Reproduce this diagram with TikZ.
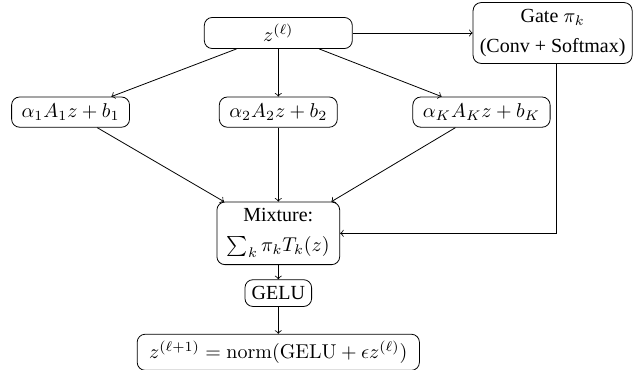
\documentclass[tikz,border=0pt]{standalone}
\usepackage[no-math]{fontspec}
\setmainfont{Liberation Serif}
\begin{document}
\begin{tikzpicture}[
          box/.style={draw, rounded corners, align=center},
          mathbox/.style={box, inner xsep=5pt},
          widebox/.style={box, minimum width=2.6cm}]
        \useasboundingbox (0,0) rectangle (11.14,-6.50);
        \node[widebox] (zin) at (4.89,-0.58) {$z^{(\ell)}$};
        \node[box] (gate) at (9.71,-0.58) {Gate $\pi_k$\\[3pt](Conv + Softmax)};
        \node[mathbox] (t1) at (1.24,-1.97) {$\alpha_1 A_1 z + b_1$};
        \node[mathbox] (t2) at (4.89,-1.97) {$\alpha_2 A_2 z + b_2$};
        \node[mathbox] (tK) at (8.46,-1.97) {$\alpha_K A_K z + b_K$};
        \node[mathbox] (mix) at (4.89,-4.10) {Mixture:\\[3pt]$\sum_k \pi_k T_k(z)$};
        \node[box] (gelu) at (4.89,-5.15) {GELU};
        \node[mathbox, inner xsep=6pt] (zout) at (4.89,-6.19) {$z^{(\ell+1)} = \mathrm{norm}(\mathrm{GELU} + \epsilon z^{(\ell)})$};
        \draw[->] (zin) -- (gate);
        \draw[->] (zin) -- (t1);
        \draw[->] (zin) -- (t2);
        \draw[->] (zin) -- (tK);
        \draw[->] (t1) -- (mix);
        \draw[->] (t2) -- (mix);
        \draw[->] (tK) -- (mix);
        \draw[->] ([xshift=2pt]gate.south) |- (mix.east);
        \draw[->] (mix) -- (gelu);
        \draw[->] (gelu) -- (zout);
      \end{tikzpicture}
\end{document}
